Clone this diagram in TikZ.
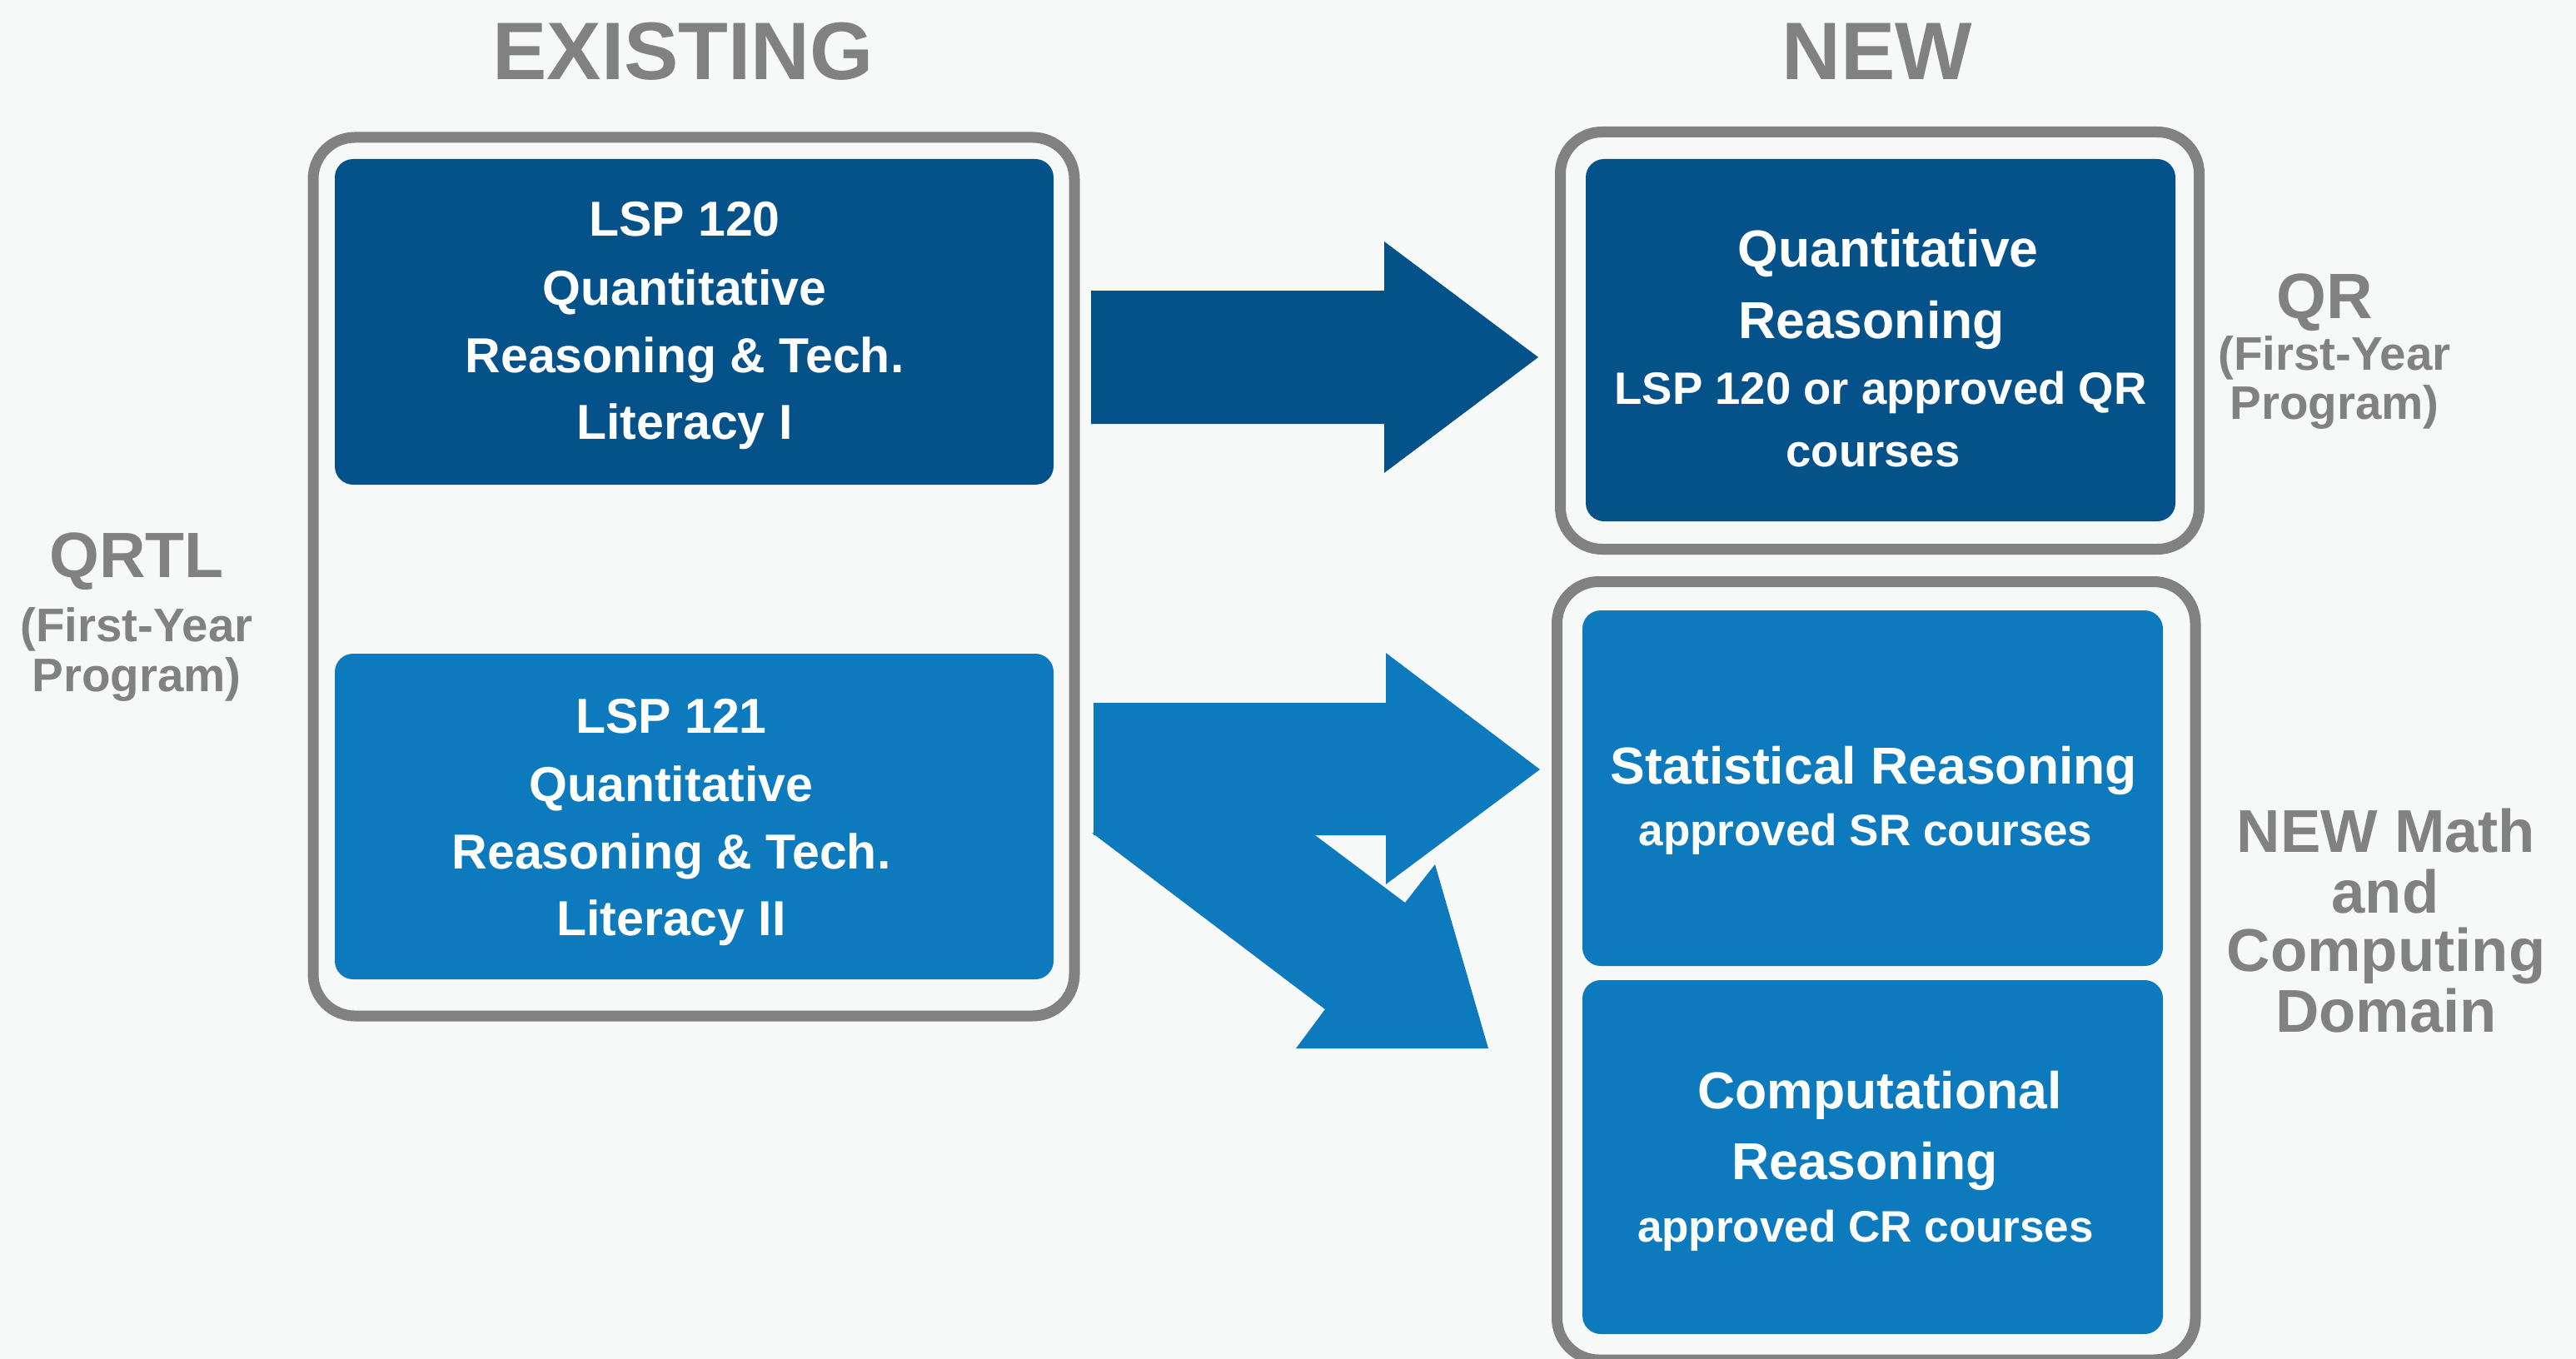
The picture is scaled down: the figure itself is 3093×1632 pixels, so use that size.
\documentclass[tikz,border=0pt]{standalone}
\usepackage{fontspec}
\setmainfont{Liberation Sans}
\definecolor{bgcol}{RGB}{247,249,249}
\definecolor{darkblue}{RGB}{5,82,138}
\definecolor{lightblue}{RGB}{14,122,190}
\definecolor{framegray}{RGB}{128,129,128}
\tikzset{
  frame/.style={draw=framegray, line width=13pt, rounded corners=50pt},
  darkbox/.style={rectangle, fill=darkblue, rounded corners=22pt, inner sep=0pt},
  lightbox/.style={rectangle, fill=lightblue, rounded corners=22pt, inner sep=0pt},
  wline/.style={text=white, anchor=base, inner sep=0pt, font=\bfseries\fontsize{59}{66}\selectfont},
  wtitle/.style={text=white, anchor=base, inner sep=0pt, font=\bfseries\fontsize{62.5}{70}\selectfont},
  wsub/.style={text=white, anchor=base, inner sep=0pt, font=\bfseries\fontsize{53}{60}\selectfont},
  heading/.style={text=framegray, anchor=base, inner sep=0pt, font=\bfseries\fontsize{98}{110}\selectfont},
  sidebig/.style={text=framegray, anchor=base, inner sep=0pt, font=\bfseries\fontsize{77}{90}\selectfont},
  sidesmall/.style={text=framegray, anchor=base, inner sep=0pt, font=\bfseries\fontsize{56.5}{62}\selectfont},
  sidemid/.style={text=framegray, anchor=base, inner sep=0pt, font=\bfseries\fontsize{72.5}{80}\selectfont},
  blockdark/.style={fill=darkblue},
  blocklight/.style={fill=lightblue},
}
\begin{document}
\begin{tikzpicture}[x=1pt,y=-1pt]
\fill[bgcol] (0,0) rectangle (3093,1632);
\useasboundingbox (0,0) rectangle (3093,1632);

% headings
\node[heading] (hexist) at (820,96) {EXISTING};
\node[heading] (hnew) at (2254,96) {NEW};

% outer frames
\draw[frame] (376,165) rectangle (1290,1220);
\draw[frame] (1873.5,158.5) rectangle (2640.5,659.5);
\draw[frame] (1869.5,698.5) rectangle (2636,1633);

% inner boxes
\node[darkbox, minimum width=863pt, minimum height=391pt] (lsp120) at (833.5,386.5) {};
\node[lightbox, minimum width=863pt, minimum height=391pt] (lsp121) at (833.5,980.5) {};
\node[darkbox, minimum width=708pt, minimum height=435pt] (qr) at (2258,408.5) {};
\node[lightbox, minimum width=697pt, minimum height=427pt] (sr) at (2248.5,946.5) {};
\node[lightbox, minimum width=697pt, minimum height=425pt] (cr) at (2248.5,1389.5) {};

% LSP 120 text
\node[wline] (t120a) at (822,283) {LSP 120};
\node[wline] (t120b) at (822,366) {Quantitative};
\node[wline] (t120c) at (822,447) {Reasoning \& Tech.};
\node[wline] (t120d) at (822,527) {Literacy I};

% LSP 121 text
\node[wline] (t121a) at (806,880) {LSP 121};
\node[wline] (t121b) at (806,962) {Quantitative};
\node[wline] (t121c) at (806,1043) {Reasoning \& Tech.};
\node[wline] (t121d) at (806,1123) {Literacy II};

% QR box text
\node[wtitle] (tqra) at (2267,320) {Quantitative};
\node[wtitle] (tqrb) at (2247,406) {Reasoning};
\node[wsub, font=\bfseries\fontsize{54.5}{60}\selectfont] (tqrc) at (2258,485) {LSP 120 or approved QR};
\node[wsub, font=\bfseries\fontsize{54.5}{60}\selectfont] (tqrd) at (2249,560) {courses};

% SR box text
\node[wtitle] (tsra) at (2250,941) {Statistical Reasoning};
\node[wsub] (tsrb) at (2240,1015) {approved SR courses};

% CR box text
\node[wtitle] (tcra) at (2257,1331) {Computational};
\node[wtitle] (tcrb) at (2239,1416) {Reasoning};
\node[wsub] (tcrc) at (2240,1491) {approved CR courses};

% arrows
\fill[blockdark] (1310,349) -- (1662,349) -- (1662,290) -- (1847,429)
  -- (1662,568) -- (1662,509) -- (1310,509) -- cycle;
\fill[blocklight] (1311,1000) -- (1591,1212) -- (1556,1259) -- (1787,1259)
  -- (1723,1038) -- (1687,1084) -- (1579,1003) -- cycle;
\fill[blocklight] (1313,844) -- (1664,844) -- (1664,784) -- (1849,924)
  -- (1664,1062) -- (1664,1003) -- (1313,1003) -- cycle;

% side labels
\node[sidebig] (lqrtl) at (164,693) {QRTL};
\node[sidesmall] (lqrtlb) at (164,770) {(First-Year};
\node[sidesmall] (lqrtlc) at (164,830) {Program)};

\node[sidebig] (lqr) at (2791,382) {QR};
\node[sidesmall] (lqrb) at (2803,444) {(First-Year};
\node[sidesmall] (lqrc) at (2803,503) {Program)};

\node[sidemid] (lnma) at (2865,1023) {NEW Math};
\node[sidemid] (lnmb) at (2864,1096) {and};
\node[sidemid] (lnmc) at (2865,1166) {Computing};
\node[sidemid] (lnmd) at (2865,1239) {Domain};
\end{tikzpicture}
\end{document}
